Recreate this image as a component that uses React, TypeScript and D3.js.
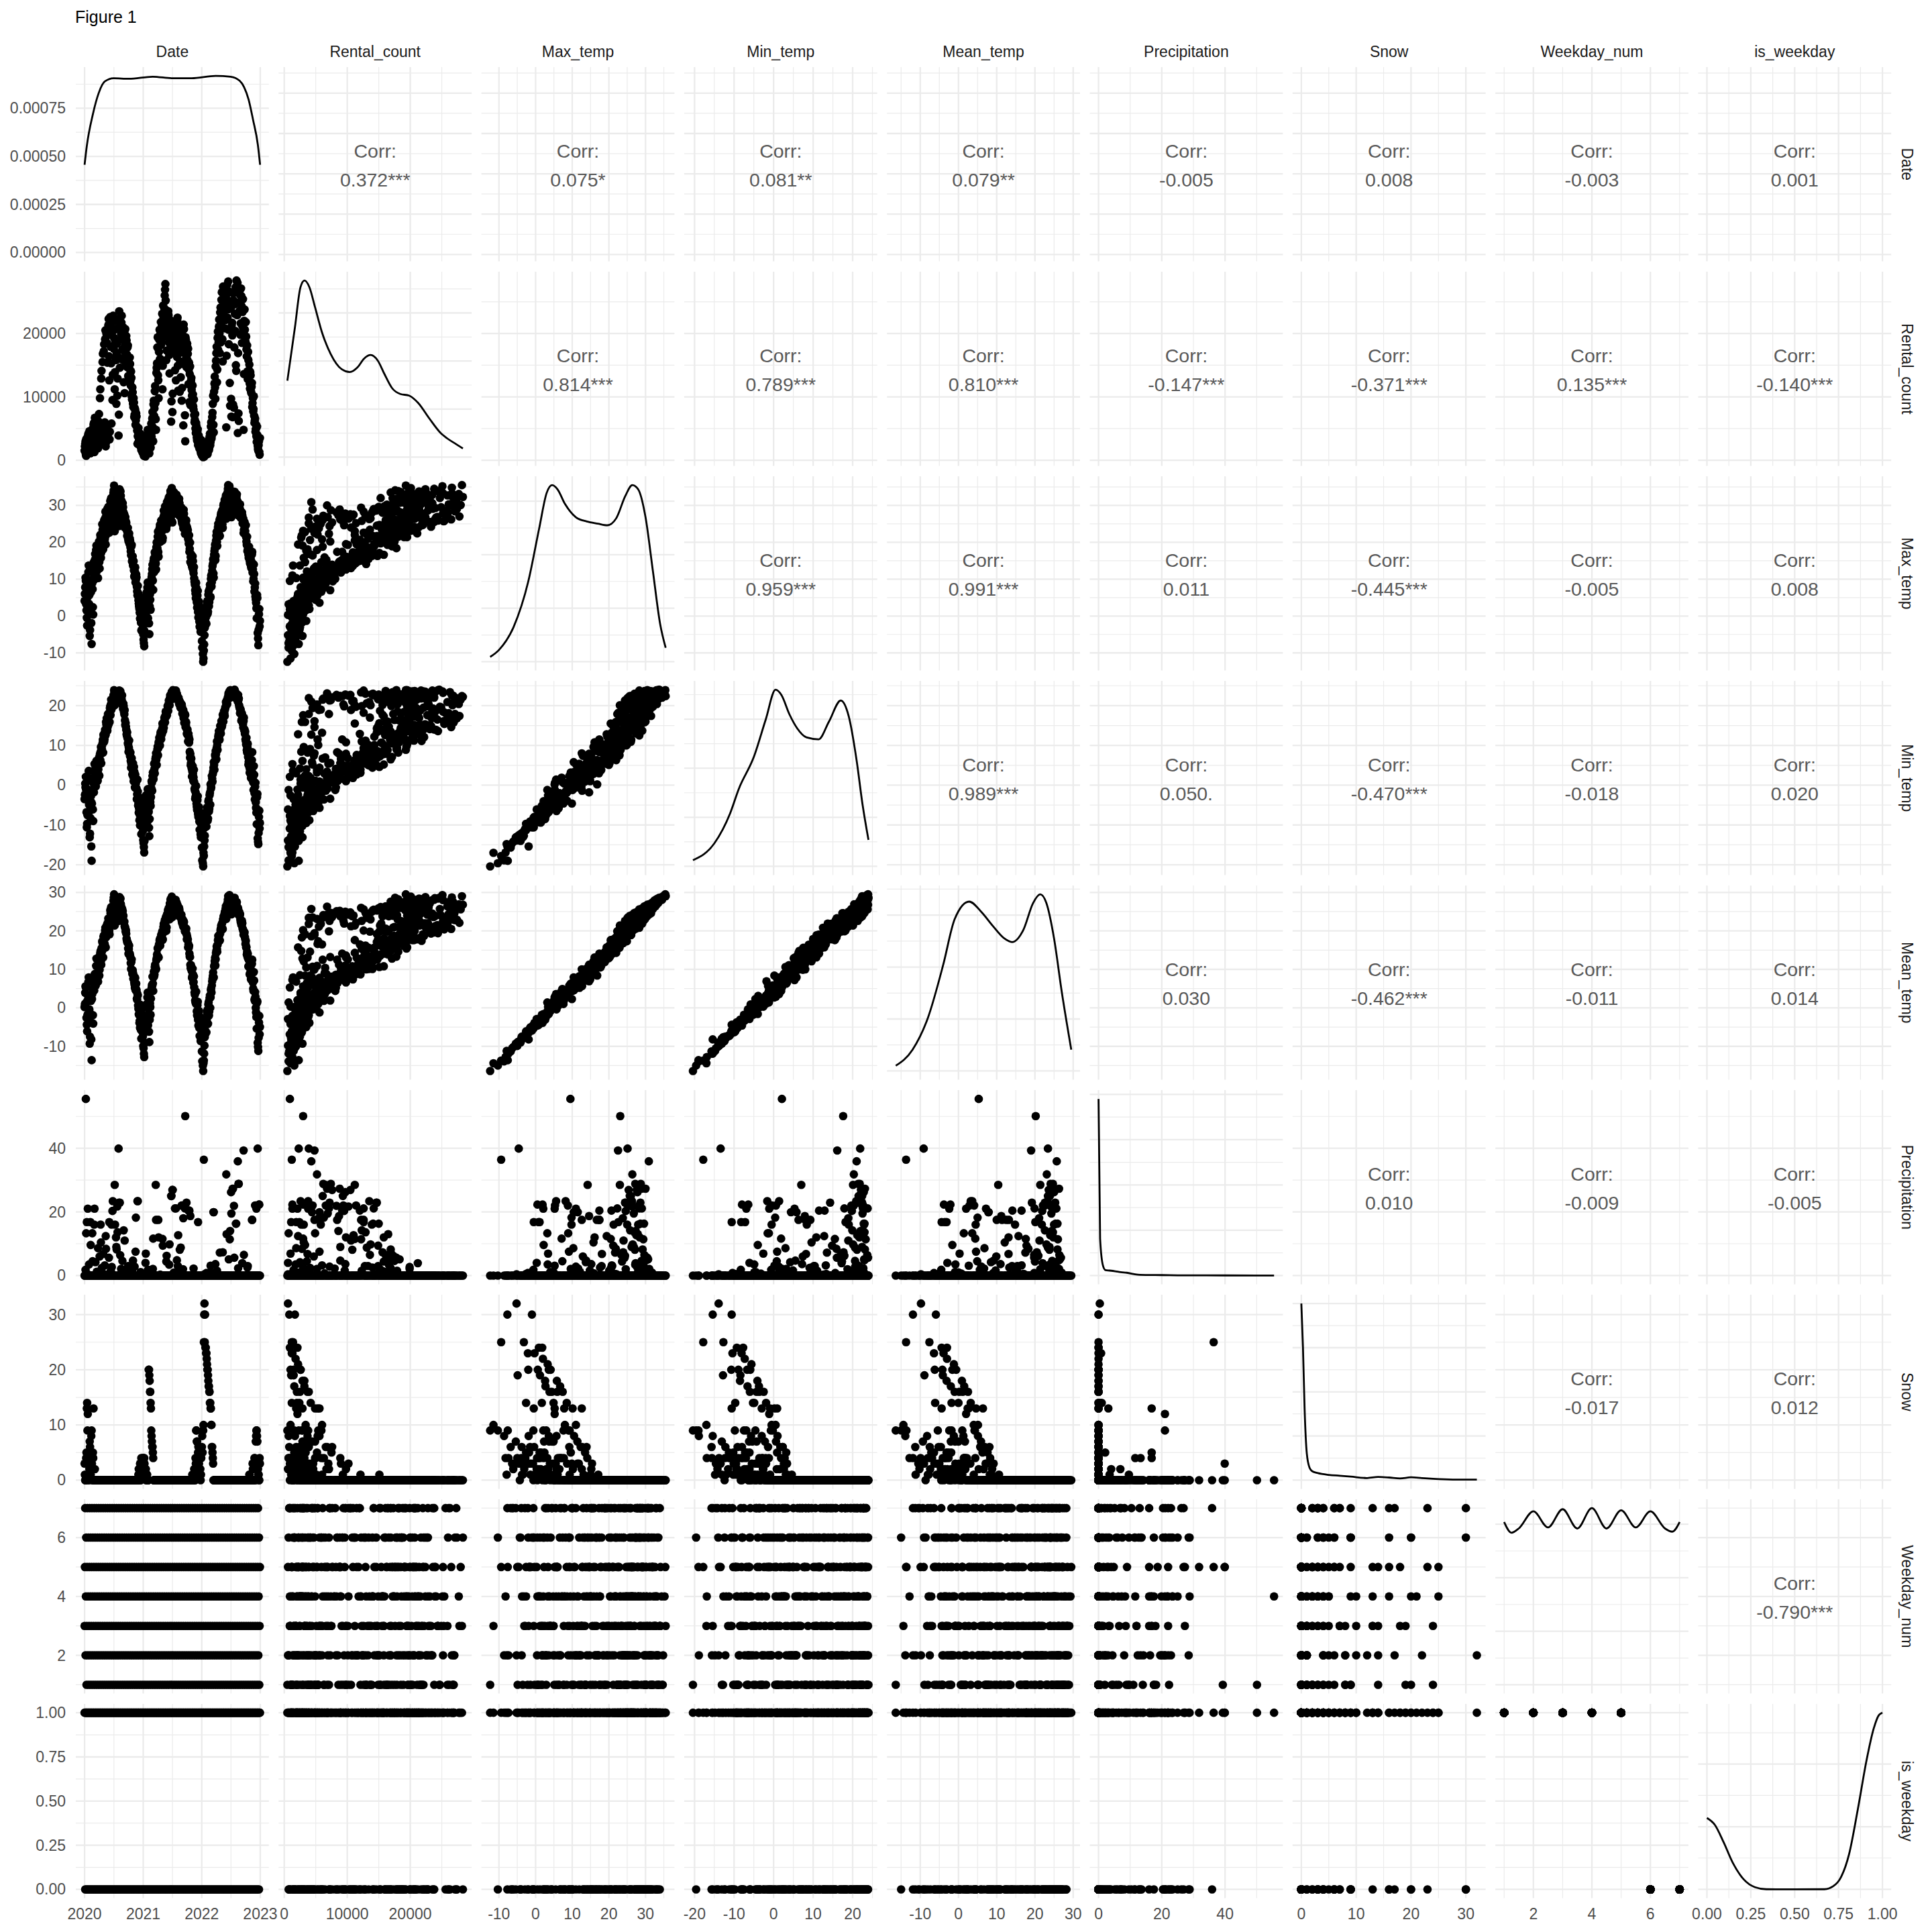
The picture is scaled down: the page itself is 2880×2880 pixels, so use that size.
import * as d3 from "d3";

// panel grid geometry (px)
const LEFT = 113;
const TOP = 100;
const PANEL_W = 287.8;
const PANEL_H = 289.6;
const STEP_X = 302.3;
const STEP_Y = 305;
const FONT = "'Liberation Sans', Arial, Helvetica, sans-serif";
const GRID = "#EBEBEB";

const VAR_NAMES = [
  "Date",
  "Rental_count",
  "Max_temp",
  "Min_temp",
  "Mean_temp",
  "Precipitation",
  "Snow",
  "Weekday_num",
  "is_weekday",
];

// two interleaved samples of the daily data: days 0,4,8,... and days 2,6,10,...
const START = new Date(2020, 0, 1);
const END = new Date(2022, 11, 31);
const RECORD_STEP = 4;
const OFFSET_B = 2;

const YEAR_TICKS = [2020, 2021, 2022, 2023];
// Date drawn as a number on the y axis of the first row (days since 1970-01-01)
const DATE_NUM_BREAKS = [18250, 18500, 18750, 19000, 19250];

const MAJOR_BREAKS: number[][] = [
  [],
  [0, 10000, 20000],
  [-10, 0, 10, 20, 30],
  [-20, -10, 0, 10, 20],
  [-20, -10, 0, 10, 20, 30],
  [0, 20, 40],
  [0, 10, 20, 30],
  [2, 4, 6],
  [0, 0.25, 0.5, 0.75, 1],
];
const DIAG_STEP = [0.00025, 2e-5, 0.01, 0.01, 0.01, 0.1, 0.2, 0.05, 1];

const CORR_TEXT: string[][] = [
  ["0.372***", "0.075*", "0.081**", "0.079**", "-0.005", "0.008", "-0.003", "0.001"],
  ["0.814***", "0.789***", "0.810***", "-0.147***", "-0.371***", "0.135***", "-0.140***"],
  ["0.959***", "0.991***", "0.011", "-0.445***", "-0.005", "0.008"],
  ["0.989***", "0.050.", "-0.470***", "-0.018", "0.020"],
  ["0.030", "-0.462***", "-0.011", "0.014"],
  ["0.010", "-0.009", "-0.005"],
  ["-0.017", "0.012"],
  ["-0.790***"],
];

// ---- sample A: days 0, 4, 8, ... (10 per line) ----
const rentalCount = [
  1500, 2600, 900, 3400, 1200, 2100, 4200, 1800, 2900, 1100,
  3800, 2300, 4900, 1600, 5600, 3100, 6700, 2500, 5200, 3600,
  4500, 1900, 6100, 3300, 9800, 2700, 12900, 4100, 15500, 3700,
  17200, 5300, 19100, 2200, 20000, 18500, 4800, 21300, 16400, 3300,
  22600, 17900, 5800, 20800, 13500, 21900, 19300, 11200, 18700, 15800,
  16900, 10200, 22100, 3900, 23500, 14600, 21400, 19900, 22800, 17500,
  21000, 12300, 20300, 18200, 15100, 19600, 16700, 17800, 13300, 16100,
  14400, 15200, 11800, 13000, 9600, 10700, 8400, 9100, 7200, 7900,
  6300, 6900, 4700, 3800, 5100, 3500, 2800, 4200, 2100, 3200,
  1700, 2500, 900, 1300, 2900, 600, 3600, 2200, 4100, 1500,
  2600, 1100, 3900, 2000, 5800, 4400, 7600, 3000, 9400, 8200,
  11700, 6500, 13800, 15300, 19400, 12600, 17100, 20600, 16000, 21800,
  18800, 23100, 14900, 22400, 19900, 26000, 27800, 23700, 17300, 21600,
  20400, 22900, 16600, 21200, 18100, 6100, 20100, 7600, 19500, 17700,
  21900, 14200, 20700, 18900, 16300, 22500, 11000, 21000, 19200, 15600,
  13100, 20900, 11400, 18000, 5500, 20700, 17500, 3000, 19000, 14700,
  18400, 16800, 12000, 15400, 13600, 8700, 12500, 11100, 9300, 10400,
  8000, 7100, 6400, 5000, 5900, 3600, 4600, 2400, 3900, 1900,
  2700, 1400, 3200, 800, 2000, 500, 1200, 600, 1700, 900,
  1300, 2200, 1000, 2900, 1600, 3700, 2400, 5300, 3400, 6800,
  8900, 5600, 10800, 13200, 9700, 15700, 17900, 14300, 20300, 18600,
  22200, 16900, 24100, 21500, 26500, 19100, 27400, 23300, 25600, 20800,
  24700, 5200, 26900, 22500, 28200, 18300, 25100, 8600, 23900, 6900,
  21700, 6800, 26300, 8300, 24600, 20400, 15000, 28350, 22900, 4300,
  7400, 26700, 23600, 19800, 27100, 24300, 21200, 25400, 4800, 22000,
  20600, 18700, 19500, 16400, 14000, 17100, 12900, 15100, 11300, 13400,
  10600, 12200, 9000, 7700, 10100, 5900, 6600, 4900, 3800, 5300,
  2300, 1500, 3000, 880,
];

const maxTemp = [
  4.1, 7.8, 9.5, 1.5, -2.6, 5.2, 11.9, 3.3, -5.4, 0.8,
  6.5, -7.6, 8.9, 2.4, 12.6, 9.8, 15.2, 13.7, 17.9, 12.1,
  16.4, 10.3, 18.8, 14.6, 19.5, 21.3, 17.2, 20.6, 23.4, 18.1,
  24.8, 22.1, 26.5, 19.4, 27.3, 25.9, 24.2, 29.6, 24.3, 22.8,
  31.2, 28.7, 25.0, 29.9, 26.3, 33.4, 35.4, 23.0, 30.8, 28.4,
  29.2, 26.4, 31.7, 25.1, 32.9, 28.6, 33.8, 31.0, 30.3, 28.9,
  29.5, 25.8, 27.6, 26.1, 24.7, 25.3, 23.2, 22.6, 20.9, 21.8,
  19.6, 20.4, 17.5, 18.9, 14.8, 16.2, 13.5, 12.4, 11.0, 13.2,
  9.8, 10.5, 6.7, 8.2, 4.3, 2.6, 0.9, 5.1, -1.8, 3.0,
  1.2, -3.1, -6.4, -8.2, -1.4, 0.3, 4.8, 2.0, 7.7, -0.6,
  3.6, -4.9, 5.9, 1.7, 9.3, 11.4, 13.9, 7.1, 15.6, 12.8,
  16.9, 14.2, 18.6, 19.7, 21.5, 17.4, 22.3, 23.8, 20.1, 24.6,
  22.7, 25.5, 21.2, 26.8, 27.4, 28.1, 27.0, 29.3, 24.4, 30.1,
  31.4, 29.8, 27.2, 32.6, 33.9, 26.0, 34.7, 25.4, 33.1, 31.8,
  32.4, 29.0, 33.0, 31.5, 30.2, 32.1, 27.5, 31.1, 30.6, 28.0,
  26.9, 29.4, 25.2, 28.3, 23.8, 27.7, 26.2, 23.1, 25.6, 24.5,
  24.0, 23.3, 20.7, 21.9, 18.2, 14.6, 16.8, 15.3, 13.1, 14.9,
  11.6, 10.2, 8.5, 6.1, 9.0, 3.7, 5.5, 1.1, 2.9, -1.5,
  0.4, -4.3, 2.2, -6.8, -2.6, -12.4, -9.4, -5.2, -1.0, 1.8,
  -2.1, 3.3, 0.6, 5.8, 2.7, 7.4, 4.9, 10.1, 8.0, 12.3,
  14.1, 11.5, 16.6, 18.3, 15.2, 20.5, 22.8, 19.0, 24.1, 23.5,
  25.3, 21.7, 26.7, 27.9, 26.2, 24.9, 29.0, 30.4, 28.5, 31.2,
  32.0, 26.4, 31.6, 33.5, 35.5, 30.7, 35.2, 27.3, 34.1, 26.8,
  33.2, 30.0, 32.8, 28.1, 33.7, 31.9, 29.6, 32.3, 31.3, 30.9,
  28.7, 30.2, 29.1, 27.8, 28.4, 26.9, 27.3, 25.8, 22.5, 24.7,
  24.2, 22.0, 21.4, 19.3, 17.6, 18.9, 15.8, 17.1, 14.3, 15.5,
  13.0, 16.7, 11.8, 9.4, 14.0, 6.6, 8.8, 4.5, 2.1, 5.7,
  -4.6, -7.9, 0.5, -2.8,
];

const minTemp = [
  -3.5, 0.4, 2.1, -6.8, -9.7, -1.1, 1.8, -4.9, -13.1, -8.2,
  -2.7, -19.0, -1.5, -6.1, 0.9, -0.5, 2.6, 4.2, 3.8, 1.4,
  5.2, 3.0, 6.7, 2.4, 7.9, 8.4, 5.5, 9.1, 10.6, 8.2,
  12.3, 11.5, 13.9, 12.8, 15.2, 14.4, 14.6, 17.1, 16.0, 15.9,
  19.8, 20.3, 19.0, 19.6, 20.9, 22.6, 23.9, 20.1, 22.8, 21.7,
  23.1, 22.5, 23.6, 21.9, 23.8, 22.4, 23.4, 22.0, 21.4, 20.6,
  19.2, 19.9, 17.8, 16.3, 15.6, 13.9, 12.4, 11.8, 10.2, 9.5,
  8.7, 7.3, 6.1, 5.4, 4.9, 3.8, 2.1, 4.6, 1.3, 2.7,
  0.4, -0.8, -2.3, -1.6, -4.7, -5.9, -7.4, -3.2, -9.6, -6.3,
  -7.8, -11.5, -14.6, -16.9, -10.2, -6.1, -4.4, -7.9, -2.2, -8.3,
  -6.7, -12.8, -3.6, -5.2, -0.7, 0.6, 2.3, 1.9, 3.5, 4.1,
  5.8, 7.0, 6.4, 8.1, 9.7, 9.3, 10.5, 11.2, 12.6, 12.0,
  13.4, 14.1, 14.8, 15.3, 16.0, 16.7, 17.4, 18.2, 17.9, 18.8,
  19.6, 20.4, 21.0, 21.8, 22.7, 21.5, 23.5, 22.1, 23.9, 22.9,
  23.2, 22.6, 23.7, 22.4, 23.0, 21.9, 21.2, 21.5, 20.8, 20.2,
  20.6, 19.4, 19.7, 18.5, 18.9, 17.2, 16.4, 17.6, 15.1, 14.3,
  13.8, 12.6, 12.9, 10.7, 8.4, 7.9, 5.6, 4.2, 3.5, 2.9,
  2.0, 0.8, -1.3, -2.9, -0.2, -5.4, -3.8, -7.2, -6.5, -9.1,
  -8.6, -12.4, -7.0, -15.7, -11.3, -20.4, -17.8, -13.9, -10.6, -7.7,
  -10.4, -5.6, -8.9, -4.1, -6.6, -2.5, -4.9, -0.9, 0.5, 1.7,
  2.8, 4.4, 5.1, 6.0, 7.2, 7.8, 9.4, 10.1, 11.3, 12.7,
  12.1, 13.5, 13.9, 15.2, 14.6, 16.3, 16.8, 17.5, 18.1, 19.0,
  19.7, 20.3, 20.8, 21.6, 22.4, 22.9, 23.6, 22.0, 23.3, 22.5,
  23.8, 23.1, 23.4, 22.7, 24.0, 23.5, 22.8, 22.2, 21.7, 21.0,
  21.4, 20.1, 19.3, 18.6, 17.9, 16.5, 17.2, 15.4, 16.1, 13.8,
  12.9, 11.5, 10.2, 8.8, 9.5, 7.1, 5.9, 4.6, 3.9, 5.0,
  2.4, 6.3, 3.1, 0.7, 4.8, -2.0, -0.4, -4.3, -6.9, -3.0,
  -13.4, -14.8, -8.0, -10.9,
];

const meanTemp = [
  0.2, 3.9, 5.3, -2.6, -6.1, 2.0, 6.7, -0.8, -9.3, -3.6,
  1.8, -13.6, 3.6, -1.9, 6.4, 4.5, 8.8, 8.5, 10.9, 6.5,
  10.7, 6.8, 12.5, 8.4, 13.6, 14.8, 11.2, 14.6, 16.9, 13.1,
  18.4, 16.6, 20.1, 15.7, 21.1, 20.0, 19.4, 23.2, 19.8, 19.1,
  25.4, 24.1, 21.8, 24.5, 23.3, 27.8, 29.5, 21.4, 26.5, 24.8,
  25.9, 24.2, 27.2, 23.4, 28.0, 25.3, 28.4, 26.3, 25.6, 24.5,
  24.1, 22.6, 22.4, 21.0, 19.8, 19.3, 17.6, 17.0, 15.4, 15.3,
  13.9, 13.5, 11.6, 11.9, 9.7, 9.8, 7.6, 8.3, 6.0, 7.8,
  5.0, 4.6, 2.1, 3.2, -0.3, -1.8, -3.4, 0.8, -5.8, -1.5,
  -3.3, -7.4, -10.5, -12.8, -5.7, -2.9, 0.1, -3.0, 2.7, -4.5,
  -1.6, -8.9, 1.1, -1.8, 4.3, 5.9, 8.1, 4.4, 9.4, 8.6,
  11.2, 10.4, 12.4, 13.9, 15.4, 13.2, 16.5, 17.6, 16.2, 18.3,
  18.0, 19.8, 17.8, 21.0, 21.6, 22.5, 22.1, 23.6, 20.9, 24.4,
  25.4, 25.0, 23.8, 27.1, 28.2, 23.4, 28.9, 23.6, 28.3, 27.0,
  27.5, 25.5, 28.1, 26.8, 26.3, 26.7, 24.0, 26.0, 25.4, 23.8,
  23.4, 24.2, 22.1, 23.0, 21.1, 22.3, 21.0, 20.2, 20.1, 19.2,
  18.6, 17.7, 16.5, 16.1, 13.3, 11.2, 11.1, 9.6, 8.2, 8.7,
  6.7, 5.3, 3.4, 1.5, 4.2, -0.9, 0.7, -3.1, -1.9, -5.2,
  -4.2, -8.6, -2.6, -11.3, -7.1, -16.4, -13.7, -9.8, -5.9, -3.0,
  -6.4, -1.2, -4.2, 0.9, -2.0, 2.5, 0.0, 4.6, 4.0, 6.9,
  8.3, 7.8, 10.8, 12.1, 11.0, 14.2, 16.0, 14.6, 17.6, 18.0,
  18.7, 17.5, 20.2, 21.4, 20.5, 20.4, 22.9, 23.8, 23.2, 25.0,
  25.7, 23.1, 26.0, 27.3, 29.0, 26.5, 29.3, 24.4, 28.5, 24.3,
  28.2, 26.3, 27.7, 25.1, 28.6, 27.4, 25.9, 26.8, 26.1, 25.7,
  24.7, 25.0, 23.9, 22.9, 22.8, 21.5, 22.0, 20.4, 19.0, 19.1,
  18.4, 16.6, 15.7, 13.9, 13.3, 12.8, 10.7, 10.6, 9.0, 10.1,
  7.6, 11.4, 7.3, 5.0, 9.3, 2.2, 4.1, 0.0, -2.4, 1.3,
  -9.1, -11.2, -3.8, -6.9,
];

const precipitation = [
  0, 0, 55.5, 0, 0.5, 21, 0, 3.5, 0, 16.8,
  0, 0, 13.3, 0, 0, 16, 0, 4.2, 0, 1.2,
  0, 8.6, 0, 0, 0, 16, 0, 2.4, 0, 6.8,
  0, 0.4, 0, 12.4, 0, 0, 0, 0, 5.6, 0,
  0, 1.5, 16, 0, 23.4, 0, 0, 28.5, 0, 12.0,
  8.2, 21.7, 0, 39.9, 0, 22.9, 0, 2.1, 0, 4.6,
  0, 14.2, 0, 0, 0.8, 0, 0, 0, 3.0, 0,
  0, 0, 0, 0, 1.6, 0, 0, 0, 2.8, 0,
  18.2, 0, 0, 23.4, 0, 0, 0, 0.6, 0, 0,
  0, 0, 0, 0, 0, 4.0, 0, 0, 0, 1.8,
  0, 0, 0, 0, 0, 0, 0, 11.6, 0, 0,
  0, 28.5, 0, 0, 0, 17.5, 0, 0, 0.3, 0,
  0, 0, 9.4, 0, 0, 0, 0, 0, 6.2, 0,
  0, 0, 3.4, 0, 0, 25.0, 0, 26.9, 0, 0.9,
  0, 21.1, 0, 0, 4.8, 0, 12.7, 0, 0, 1.4,
  8.8, 0, 22.0, 0, 18.0, 0, 0, 50.1, 0, 22.9,
  0, 0, 20.4, 0, 0, 18.7, 0, 0, 0, 0,
  2.2, 0, 0, 0, 0, 0, 0, 16.8, 0, 0,
  0, 0, 0, 0, 0, 0, 36.4, 0.4, 0, 0,
  0.8, 0, 0, 0, 0, 0, 1.0, 0, 0, 0,
  0, 19.9, 0, 0, 3.6, 0, 0, 0, 0, 0,
  0, 7.2, 0, 0, 0, 0, 0, 0, 0, 0,
  0, 31.8, 0, 0, 0, 5.1, 0, 14.0, 0, 19.5,
  0, 27.3, 0, 21.9, 0, 0, 16.3, 0, 0, 35.9,
  28.8, 0, 0, 0, 0, 0, 3.9, 0, 39.3, 0,
  0, 0, 0, 0, 2.5, 0, 0, 0, 0, 0,
  0, 17.5, 0, 0, 0, 0, 22.0, 0, 21.0, 0,
  39.9, 0, 22.3, 0,
];

const snow = [
  3, 0, 0, 5, 14, 12, 0, 1, 7, 4,
  2, 9, 0, 5, 13, 0, 2, 0, 0, 0,
  0, 0, 0, 0, 0, 0, 0, 0, 0, 0,
  0, 0, 0, 0, 0, 0, 0, 0, 0, 0,
  0, 0, 0, 0, 0, 0, 0, 0, 0, 0,
  0, 0, 0, 0, 0, 0, 0, 0, 0, 0,
  0, 0, 0, 0, 0, 0, 0, 0, 0, 0,
  0, 0, 0, 0, 0, 0, 0, 0, 0, 0,
  0, 0, 0, 0, 1, 0, 2, 0, 3, 1,
  4, 2, 3, 4, 1, 2, 0, 1, 0, 0,
  20, 19, 16, 14, 9, 7, 6, 4, 0, 0,
  0, 0, 0, 0, 0, 0, 0, 0, 0, 0,
  0, 0, 0, 0, 0, 0, 0, 0, 0, 0,
  0, 0, 0, 0, 0, 0, 0, 0, 0, 0,
  0, 0, 0, 0, 0, 0, 0, 0, 0, 0,
  0, 0, 0, 0, 0, 0, 0, 0, 0, 0,
  0, 0, 0, 0, 0, 0, 0, 0, 1, 0,
  0, 2, 0, 4, 9, 7, 3, 5, 2, 6,
  1, 0, 4, 6, 5, 9, 25, 32, 30, 24,
  23, 21, 20, 18, 17, 16, 14, 13, 10, 6,
  4, 0, 0, 0, 0, 0, 0, 0, 0, 0,
  0, 0, 0, 0, 0, 0, 0, 0, 0, 0,
  0, 0, 0, 0, 0, 0, 0, 0, 0, 0,
  0, 0, 0, 0, 0, 0, 0, 0, 0, 0,
  0, 0, 0, 0, 0, 0, 0, 0, 0, 0,
  0, 0, 0, 0, 0, 0, 0, 1, 0, 0,
  0, 0, 3, 0, 0, 4, 0, 7, 9, 8,
  3, 1, 0, 4,
];

// Monday = 1 ... Sunday = 7
const weekdayNum = (
  "3741526 3741526 3741526 3741526 3741526 3741526 3741526 3741526 3741526 3741526" +
  "3741526 3741526 3741526 3741526 3741526 3741526 3741526 3741526 3741526 3741526" +
  "3741526 3741526 3741526 3741526 3741526 3741526 3741526 3741526 3741526 3741526" +
  "3741526 3741526 3741526 3741526 3741526 3741526 3741526 3741526 3741526 3"
)
  .replace(/\s/g, "")
  .split("")
  .map(Number);

const isWeekday = (
  "1011110 1011110 1011110 1011110 1011110 1011110 1011110 1011110 1011110 1011110" +
  "1011110 1011110 1011110 1011110 1011110 1011110 1011110 1011110 1011110 1011110" +
  "1011110 1011110 1011110 1011110 1011110 1011110 1011110 1011110 1011110 1011110" +
  "1011110 1011110 1011110 1011110 1011110 1011110 1011110 1011110 1011110 1"
)
  .replace(/\s/g, "")
  .split("")
  .map(Number);

// ---- sample B: days 2, 6, 10, ... (10 per line) ----
const rentalCountB = [
  2200, 3000, 700, 1900, 2800, 3900, 1400, 4600, 2400, 3300,
  1700, 4400, 3600, 2000, 5900, 1300, 4100, 5700, 2900, 6400,
  5000, 3500, 7300, 4700, 11200, 3100, 14100, 5400, 16800, 4300,
  18300, 6000, 20500, 2800, 19600, 15400, 3900, 22300, 12600, 4500,
  21100, 15300, 19900, 9500, 22800, 17600, 20600, 13900, 16300, 8900,
  18400, 12900, 20900, 7200, 22400, 16100, 19100, 21700, 15900, 20200,
  17300, 19000, 10600, 20700, 16600, 18900, 14700, 18100, 15600, 12900,
  16200, 12500, 14000, 10100, 11500, 8900, 9800, 6800, 8200, 5600,
  7400, 5300, 2600, 4400, 3000, 4000, 2300, 3600, 1600, 2700,
  1200, 1900, 700, 2300, 3300, 1000, 3000, 1800, 4800, 2100,
  1500, 3200, 2500, 4900, 3700, 6600, 5200, 8800, 7000, 10900,
  9000, 4800, 14600, 17800, 13400, 9800, 19000, 15900, 20100, 18200,
  21300, 11200, 24400, 20900, 23900, 26900, 25200, 15800, 22700, 19500,
  23500, 18600, 13700, 22100, 16900, 9300, 19800, 10500, 20300, 18500,
  17200, 21400, 12600, 19700, 22000, 14900, 20400, 18000, 10800, 20000,
  17000, 9400, 19800, 15200, 21400, 18800, 7100, 19400, 16100, 17900,
  15800, 17600, 14300, 9200, 14800, 11900, 13000, 10200, 11800, 8500,
  9600, 6000, 7300, 4300, 5400, 3100, 4900, 2800, 3300, 2100,
  2500, 1100, 2800, 700, 1600, 1000, 800, 1400, 2100, 1200,
  1800, 2600, 1500, 3200, 2000, 4200, 2900, 6000, 3900, 7500,
  10200, 4400, 12100, 11500, 14800, 16900, 12300, 19300, 17400, 21100,
  20000, 23300, 18600, 25300, 22800, 15600, 26200, 24000, 27000, 22100,
  25900, 16500, 27700, 23800, 20600, 26600, 12200, 24400, 9700, 21300,
  19700, 8800, 25200, 17800, 23100, 27300, 14100, 26800, 28000, 16900,
  6200, 24900, 26100, 21600, 25900, 18500, 23400, 20700, 13600, 23800,
  19300, 21800, 17500, 18100, 12800, 15800, 14200, 12100, 13900, 10900,
  11600, 8400, 9800, 8100, 7000, 6300, 4500, 5600, 2900, 4000,
  1800, 2400, 1300, 3500,
];

const maxTempB = [
  6.0, 10.4, 3.2, -0.5, 2.9, 8.6, 13.7, 5.7, -3.8, 2.2,
  -1.9, 9.9, 7.3, 0.4, 14.6, 11.0, 16.8, 12.5, 19.1, 15.9,
  13.4, 17.7, 20.2, 12.9, 22.0, 15.8, 21.7, 24.9, 19.9, 23.7,
  26.0, 20.8, 28.3, 21.9, 25.2, 29.1, 26.7, 27.8, 22.6, 28.9,
  30.3, 32.0, 27.7, 24.6, 31.5, 34.1, 33.0, 28.0, 30.1, 26.2,
  30.9, 27.0, 32.4, 24.4, 34.4, 29.7, 32.6, 31.3, 29.8, 30.6,
  28.2, 27.1, 24.0, 26.8, 25.6, 24.1, 21.7, 23.9, 20.3, 22.4,
  21.0, 18.6, 16.5, 19.3, 15.4, 13.8, 14.9, 10.7, 12.0, 9.1,
  11.3, 7.9, 5.6, 6.2, 3.4, 1.9, -0.7, 4.0, -3.9, 0.5,
  -2.2, -5.0, -7.4, -4.1, 1.6, 3.4, 6.3, -0.3, 9.1, 2.8,
  -2.0, 2.6, 4.4, 7.8, 10.5, 12.7, 9.6, 14.8, 11.9, 17.3,
  15.0, 12.6, 20.0, 18.4, 22.9, 16.1, 21.4, 24.7, 23.1, 25.9,
  24.0, 20.5, 25.9, 28.6, 26.1, 29.7, 27.8, 23.6, 30.9, 28.9,
  30.6, 32.2, 26.5, 31.0, 33.5, 25.7, 34.0, 27.6, 32.7, 33.6,
  31.9, 30.4, 28.3, 32.9, 31.6, 29.4, 30.0, 31.8, 27.1, 29.6,
  28.6, 25.9, 27.3, 24.6, 28.8, 26.4, 22.3, 25.3, 26.0, 23.2,
  22.4, 21.0, 19.6, 17.4, 19.9, 16.0, 14.1, 13.6, 16.2, 12.4,
  13.3, 9.3, 7.0, 4.8, 7.6, 2.3, 6.8, -0.4, 3.9, -2.9,
  1.4, -3.5, -1.8, -8.6, -10.3, -11.5, -7.7, -3.2, 0.9, -0.3,
  2.0, 4.1, 1.2, 6.7, 3.8, 8.5, 5.2, 11.0, 9.2, 13.5,
  15.4, 10.4, 17.6, 19.4, 16.3, 21.8, 20.1, 23.2, 25.0, 22.4,
  26.1, 24.2, 27.4, 25.7, 28.6, 23.9, 30.0, 29.3, 31.5, 30.8,
  32.7, 27.9, 33.1, 34.5, 32.2, 34.8, 29.4, 33.9, 27.8, 32.6,
  31.2, 28.9, 33.3, 30.5, 32.0, 31.4, 28.6, 33.0, 30.1, 29.9,
  27.2, 29.5, 30.3, 26.6, 27.6, 28.1, 25.1, 26.4, 23.4, 25.5,
  23.0, 24.6, 20.2, 21.5, 18.0, 16.6, 18.8, 15.0, 16.3, 13.6,
  14.7, 17.4, 12.6, 10.1, 11.4, 7.7, 5.3, 3.6, -0.6, 4.9,
  -6.1, -3.7, 1.9, -1.3,
];

const minTempB = [
  -2.4, -0.6, -1.2, -10.6, -7.5, -3.9, 3.6, -6.5, -12.2, -4.0,
  -15.4, -4.6, 0.8, -9.0, -1.8, 5.3, 0.2, -0.3, 6.1, 2.9,
  1.1, 4.0, 5.6, 7.4, 6.3, 9.6, 8.0, 10.1, 11.4, 12.7,
  10.9, 13.2, 12.5, 15.9, 16.8, 13.7, 17.9, 15.3, 18.2, 19.4,
  17.6, 21.5, 20.6, 19.8, 21.1, 22.3, 23.4, 22.9, 21.0, 22.4,
  22.2, 23.0, 22.8, 21.3, 23.5, 23.7, 22.1, 21.8, 22.6, 20.0,
  20.5, 18.4, 18.9, 15.1, 14.7, 12.8, 13.3, 10.6, 8.4, 11.2,
  7.9, 8.2, 4.4, 6.8, 2.7, 5.5, 1.0, 3.4, -0.6, 0.9,
  1.6, -3.5, 1.4, -5.1, -6.9, -8.8, -10.1, -4.5, -12.3, -9.2,
  -9.9, -13.8, -15.6, -14.0, -8.1, -2.6, -5.8, -9.4, -1.0, -6.3,
  -10.7, -8.5, -4.3, -3.0, 1.0, -1.4, 3.2, 1.5, 5.4, 3.0,
  6.6, 8.0, 5.1, 9.0, 7.5, 10.8, 11.9, 10.0, 13.3, 11.6,
  12.8, 15.5, 13.6, 14.4, 17.0, 15.8, 18.5, 17.3, 17.6, 19.9,
  18.7, 21.3, 20.1, 22.5, 21.7, 22.4, 23.1, 22.7, 23.6, 22.0,
  23.4, 23.0, 23.8, 22.9, 22.2, 21.6, 22.0, 20.4, 21.1, 19.5,
  19.9, 20.3, 18.0, 18.7, 16.9, 15.7, 17.9, 14.6, 15.8, 12.9,
  14.0, 11.0, 12.2, 11.5, 6.9, 5.0, 6.7, 2.2, 4.8, 1.1,
  3.9, -0.9, -3.4, -1.9, -4.6, -6.2, -2.8, -8.0, -5.5, -11.2,
  -9.4, -13.1, -10.2, -18.9, -19.6, -17.0, -15.4, -12.7, -9.3, -8.1,
  -7.3, -5.9, -8.4, -3.7, -6.0, -1.9, 0.2, -0.5, 2.3, 0.9,
  3.4, 5.8, 3.9, 7.6, 8.6, 6.5, 11.0, 8.9, 12.2, 13.6,
  11.4, 14.9, 13.0, 16.1, 15.0, 17.7, 16.0, 18.6, 17.4, 19.5,
  20.9, 21.2, 20.4, 22.0, 23.1, 22.6, 23.3, 23.9, 22.8, 23.0,
  23.7, 22.4, 23.2, 23.9, 22.9, 21.9, 23.0, 22.5, 21.5, 22.7,
  21.8, 19.6, 18.1, 19.0, 16.2, 18.0, 16.8, 14.5, 17.0, 14.0,
  13.5, 11.1, 11.9, 8.2, 10.4, 5.2, 6.6, 3.1, 6.0, 1.8,
  4.1, 8.3, 1.5, -1.2, 2.6, -3.6, 0.6, -5.7, -9.8, -2.2,
  -14.2, -12.0, -6.4, -9.5,
];

const meanTempB = [
  1.0, 5.6, 1.4, -4.4, -1.8, 3.1, 7.9, -0.4, -7.5, -1.6,
  -8.2, 2.3, 4.9, -4.1, 6.9, 7.2, 8.4, 5.8, 12.8, 9.0,
  7.1, 10.5, 13.2, 9.9, 14.3, 12.1, 15.5, 17.3, 15.2, 18.6,
  18.9, 16.5, 20.8, 18.3, 21.4, 21.9, 21.8, 22.0, 20.1, 23.5,
  24.6, 26.2, 23.3, 21.9, 25.7, 28.6, 27.2, 25.0, 25.9, 23.8,
  26.0, 24.7, 27.9, 22.6, 28.8, 26.4, 27.0, 26.1, 25.8, 25.2,
  23.9, 22.3, 21.2, 20.7, 20.2, 18.0, 17.1, 16.8, 14.0, 16.2,
  14.1, 13.0, 10.1, 12.6, 8.8, 9.2, 7.4, 6.6, 5.2, 4.6,
  6.3, 2.4, 3.6, 0.6, -1.7, -3.9, -5.2, -0.9, -8.0, -4.6,
  -6.3, -9.9, -11.9, -9.0, -3.4, 0.3, 0.9, -5.0, 4.0, -2.5,
  -6.2, -3.1, 0.2, 2.4, 5.1, 5.7, 6.3, 7.9, 8.2, 10.6,
  10.4, 10.0, 12.9, 13.3, 15.6, 13.1, 16.1, 17.9, 17.8, 19.0,
  18.1, 17.6, 19.4, 21.8, 21.2, 22.9, 22.6, 20.0, 24.2, 24.0,
  24.5, 26.0, 23.0, 26.4, 27.6, 23.9, 28.4, 24.8, 27.8, 27.5,
  27.2, 26.4, 25.6, 27.4, 26.6, 25.3, 25.5, 25.9, 23.8, 24.3,
  24.0, 22.6, 22.3, 21.4, 22.5, 20.8, 19.9, 19.7, 20.6, 17.8,
  18.0, 15.7, 15.6, 14.1, 13.2, 10.3, 10.0, 7.8, 10.2, 6.5,
  8.2, 4.0, 1.9, 1.1, 1.0, -2.0, 1.6, -4.6, -0.8, -7.3,
  -3.8, -8.0, -6.4, -13.9, -15.0, -14.4, -11.9, -7.6, -4.4, -3.9,
  -3.0, -0.6, -4.1, 1.5, -1.0, 3.2, 2.7, 5.1, 5.8, 7.6,
  9.2, 7.9, 11.1, 13.0, 12.6, 14.8, 15.3, 16.4, 18.7, 17.8,
  19.0, 19.3, 20.6, 20.8, 22.0, 20.5, 23.3, 23.9, 24.6, 25.1,
  26.4, 24.2, 26.9, 28.1, 27.3, 28.7, 26.0, 28.4, 25.0, 27.6,
  27.0, 25.2, 28.0, 26.8, 27.1, 26.3, 25.4, 27.5, 25.6, 25.9,
  24.1, 24.0, 24.4, 22.3, 21.6, 22.6, 20.6, 20.0, 19.8, 19.6,
  17.9, 17.4, 15.8, 14.6, 14.0, 10.8, 12.3, 8.7, 10.9, 7.4,
  9.3, 12.5, 6.6, 4.4, 7.1, 1.8, 2.9, -1.2, -5.4, 1.7,
  -10.2, -7.8, -2.1, -5.0,
];

const precipitationB = [
  0, 1.8, 13.3, 16.8, 0, 0, 0, 0, 0, 9.6,
  0, 0, 4.5, 0, 0, 21.0, 0, 0, 0, 0.7,
  0, 0, 0, 6.0, 0, 10.4, 0, 0, 0, 0,
  0, 3.2, 0, 8.4, 0, 0, 0, 0, 16.8, 0,
  0, 0, 2.7, 20.3, 0, 0, 0, 16.0, 0, 9.0,
  0, 13.6, 0, 22.9, 0, 6.4, 0, 0, 1.2, 0,
  0, 0, 11.0, 0, 0, 0, 0.5, 0, 0, 0,
  0, 0, 0, 0, 0, 4.7, 0, 0, 0, 7.5,
  0, 0, 23.4, 0, 0, 0, 0, 1.1, 0, 0,
  0, 0, 0, 0, 0, 6.9, 0, 0, 0, 0,
  0, 0, 0, 0, 0, 0, 2.1, 0, 0, 0,
  0, 17.5, 0, 0, 0, 12.0, 0, 0, 0, 0,
  0, 11.5, 0, 0, 0, 0, 0, 4.4, 0, 0,
  0, 0, 9.8, 0, 0, 25.0, 0, 26.9, 0, 0,
  0, 0, 21.1, 0, 0, 3.0, 0, 0, 8.1, 0,
  0, 22.0, 0, 2.0, 0, 0, 21.1, 0, 0, 0,
  0, 0, 0, 20.4, 0, 0, 0, 0, 0, 0,
  0, 0, 0, 0, 0, 0, 0, 0, 0, 0,
  0, 0, 0, 0, 0, 0, 0, 0, 0, 0,
  0, 0, 0, 0, 0, 0, 3.1, 0, 0, 0,
  0, 19.9, 0, 0, 0, 0, 1.5, 0, 0, 0,
  0, 0, 0, 0, 0, 7.3, 0, 0, 0, 0,
  0, 13.0, 0, 0, 0, 0, 11.4, 0, 26.2, 0,
  0, 27.3, 0, 5.6, 0, 0, 16.3, 0, 0, 2.3,
  28.8, 0, 0, 0, 0, 0, 0, 0, 6.5, 0,
  0, 0, 0, 0, 3.0, 0, 0, 0, 0, 0,
  0, 17.5, 0, 0, 0, 0, 22.0, 0, 0, 0,
  0, 0, 22.3, 0,
];

const snowB = [
  1, 0, 4, 13, 9, 3, 0, 2, 6, 1,
  8, 3, 0, 4, 0, 0, 0, 0, 0, 0,
  0, 0, 0, 0, 0, 0, 0, 0, 0, 0,
  0, 0, 0, 0, 0, 0, 0, 0, 0, 0,
  0, 0, 0, 0, 0, 0, 0, 0, 0, 0,
  0, 0, 0, 0, 0, 0, 0, 0, 0, 0,
  0, 0, 0, 0, 0, 0, 0, 0, 0, 0,
  0, 0, 0, 0, 0, 0, 0, 0, 0, 0,
  0, 0, 0, 0, 2, 1, 3, 0, 4, 2,
  3, 4, 4, 3, 1, 2, 0, 1, 0, 0,
  20, 18, 16, 13, 8, 6, 5, 0, 0, 0,
  0, 0, 0, 0, 0, 0, 0, 0, 0, 0,
  0, 0, 0, 0, 0, 0, 0, 0, 0, 0,
  0, 0, 0, 0, 0, 0, 0, 0, 0, 0,
  0, 0, 0, 0, 0, 0, 0, 0, 0, 0,
  0, 0, 0, 0, 0, 0, 0, 0, 0, 0,
  0, 0, 0, 0, 0, 0, 0, 0, 0, 0,
  0, 1, 0, 3, 9, 7, 4, 6, 3, 4,
  2, 1, 5, 8, 9, 10, 30, 25, 24, 23,
  22, 20, 19, 17, 16, 14, 13, 10, 6, 5,
  3, 0, 0, 0, 0, 0, 0, 0, 0, 0,
  0, 0, 0, 0, 0, 0, 0, 0, 0, 0,
  0, 0, 0, 0, 0, 0, 0, 0, 0, 0,
  0, 0, 0, 0, 0, 0, 0, 0, 0, 0,
  0, 0, 0, 0, 0, 0, 0, 0, 0, 0,
  0, 0, 0, 0, 0, 0, 0, 1, 0, 0,
  0, 0, 2, 0, 3, 4, 0, 8, 9, 7,
  2, 1, 0, 3,
];

const weekdayNumB = (
  "5263741 5263741 5263741 5263741 5263741 5263741 5263741 5263741 5263741 5263741" +
  "5263741 5263741 5263741 5263741 5263741 5263741 5263741 5263741 5263741 5263741" +
  "5263741 5263741 5263741 5263741 5263741 5263741 5263741 5263741 5263741 5263741" +
  "5263741 5263741 5263741 5263741 5263741 5263741 5263741 5263741 5263741 5"
)
  .replace(/\s/g, "")
  .split("")
  .map(Number);

const isWeekdayB = (
  "1101011 1101011 1101011 1101011 1101011 1101011 1101011 1101011 1101011 1101011" +
  "1101011 1101011 1101011 1101011 1101011 1101011 1101011 1101011 1101011 1101011" +
  "1101011 1101011 1101011 1101011 1101011 1101011 1101011 1101011 1101011 1101011" +
  "1101011 1101011 1101011 1101011 1101011 1101011 1101011 1101011 1101011 1"
)
  .replace(/\s/g, "")
  .split("")
  .map(Number);

// ---- diagonal density curves, [value, density] ----
const densDate: [number, number][] = [
  [0, 0.000456], [14, 0.000554], [51, 0.000716], [89, 0.000831], [126, 0.000889],
  [182, 0.000906], [276, 0.000903], [425, 0.000914], [547, 0.000906], [668, 0.000906],
  [818, 0.000918], [911, 0.000914], [967, 0.000893], [995, 0.00086], [1023, 0.000796],
  [1051, 0.00069], [1081, 0.00056], [1095, 0.000456],
];
const densRental: [number, number][] = [
  [500, 3.18e-5], [1700, 5.4e-5], [2580, 7.07e-5], [3220, 7.35e-5], [4000, 7.07e-5],
  [4890, 6.24e-5], [5960, 5.22e-5], [7380, 4.29e-5], [9160, 3.65e-5], [10400, 3.54e-5],
  [11640, 3.74e-5], [12710, 4.11e-5], [13710, 4.25e-5], [14840, 4.02e-5], [15900, 3.46e-5],
  [17150, 2.86e-5], [18400, 2.63e-5], [19820, 2.56e-5], [21240, 2.26e-5], [23020, 1.61e-5],
  [24800, 1.01e-5], [25860, 0.78e-5], [27280, 0.54e-5], [28350, 0.36e-5],
];
const densMax: [number, number][] = [
  [-12.4, 0.0009], [-10, 0.0022], [-6, 0.0065], [-2, 0.015], [1, 0.025], [3, 0.0315],
  [4.5, 0.033], [6, 0.0322], [8, 0.0295], [11, 0.027], [14, 0.0262], [17, 0.0258],
  [19.6, 0.0255], [22, 0.0268], [24.5, 0.031], [26.4, 0.033], [28, 0.0322], [30, 0.027],
  [32, 0.017], [34, 0.007], [35.5, 0.0026],
];
const densMin: [number, number][] = [
  [-20.4, 0.00126], [-15, 0.00468], [-11, 0.0108], [-8.8, 0.0158], [-5, 0.0223],
  [-2, 0.0299], [0.5, 0.036], [2, 0.0349], [4, 0.031], [6, 0.0281], [8.3, 0.0263],
  [11.4, 0.0259], [14, 0.0295], [17, 0.0338], [19, 0.0306], [21, 0.0216], [22.5, 0.0126],
  [24, 0.0054],
];
const densMean: [number, number][] = [
  [-16.4, 0.001], [-12, 0.0041], [-8, 0.0102], [-4, 0.0204], [-1, 0.0292], [2.8, 0.0326],
  [6, 0.0306], [9, 0.0279], [12, 0.0255], [14, 0.0248], [17, 0.0272], [19.5, 0.0323],
  [21.4, 0.034], [23, 0.0323], [25, 0.0255], [27, 0.0153], [29.5, 0.0041],
];
const densPrecip: [number, number][] = [
  [0, 0.39], [0.5, 0.081], [1.4, 0.022], [2.2, 0.012], [3.5, 0.011], [5.3, 0.0094],
  [7, 0.0075], [8.9, 0.0062], [12.4, 0.002], [16, 0.0012], [20, 0.001], [25, 0.0006],
  [30, 0.0004], [40, 0.0003], [50, 0.0002], [55.5, 0.0002],
];
const densSnow: [number, number][] = [
  [0, 0.8], [0.3, 0.6], [0.6, 0.32], [1, 0.12], [1.5, 0.056], [2, 0.04], [3, 0.032],
  [5, 0.024], [7, 0.02], [9, 0.016], [12, 0.0096], [14, 0.0144], [16, 0.012], [18, 0.008],
  [20, 0.0128], [22, 0.0096], [24, 0.0064], [26, 0.004], [29, 0.0024], [32, 0.0024],
];
const densWeekday: [number, number][] = [
  [1, 0.152], [1.25, 0.142], [1.5, 0.146], [2, 0.162], [2.5, 0.147], [3, 0.164],
  [3.5, 0.146], [4, 0.165], [4.5, 0.146], [5, 0.163], [5.5, 0.147], [6, 0.162],
  [6.5, 0.146], [6.75, 0.143], [7, 0.152],
];
const densIsWeekday: [number, number][] = [
  [0, 1.14], [0.045, 1.03], [0.096, 0.747], [0.147, 0.426], [0.21, 0.158], [0.274, 0.034],
  [0.338, 0.002], [0.5, 0], [0.67, 0.002], [0.72, 0.051], [0.76, 0.175], [0.81, 0.564],
  [0.86, 1.283], [0.91, 2.07], [0.95, 2.566], [0.98, 2.783], [1, 2.82],
];

function minorBreaks(major: number[], lo: number, hi: number) {
  const out: number[] = [];
  for (let k = 0; k < major.length - 1; k++) out.push((major[k] + major[k + 1]) / 2);
  if (major.length > 1) {
    out.push(major[0] - (major[1] - major[0]) / 2);
    const m = major.length;
    out.push(major[m - 1] + (major[m - 1] - major[m - 2]) / 2);
  }
  return out.filter((v) => v >= lo && v <= hi);
}

function App() {
  const daysA = d3.range(rentalCount.length).map((k) => k * RECORD_STEP);
  const daysB = d3.range(rentalCountB.length).map((k) => k * RECORD_STEP + OFFSET_B);
  const lastDay = d3.timeDay.count(START, END);
  const cols = [
    [...daysA, ...daysB],
    [...rentalCount, ...rentalCountB],
    [...maxTemp, ...maxTempB],
    [...minTemp, ...minTempB],
    [...meanTemp, ...meanTempB],
    [...precipitation, ...precipitationB],
    [...snow, ...snowB],
    [...weekdayNum, ...weekdayNumB],
    [...isWeekday, ...isWeekdayB],
  ];
  const dens = [densDate, densRental, densMax, densMin, densMean, densPrecip, densSnow, densWeekday, densIsWeekday];

  const limits = cols.map((c, k) => {
    const [a, b] = k === 0 ? [0, lastDay] : (d3.extent(c) as [number, number]);
    const pad = (b - a) * 0.05;
    return [a - pad, b + pad];
  });

  const colX = (j: number) => LEFT + j * STEP_X;
  const rowY = (i: number) => TOP + i * STEP_Y;

  const xs = cols.map((_, j) =>
    d3.scaleLinear().domain(limits[j]).range([colX(j), colX(j) + PANEL_W])
  );
  const ys = cols.map((_, i) =>
    d3.scaleLinear().domain(limits[i]).range([rowY(i) + PANEL_H, rowY(i)])
  );
  const dys = dens.map((d, i) => {
    const m = d3.max(d, (p) => p[1]) ?? 1;
    return d3.scaleLinear().domain([-0.05 * m, 1.05 * m]).range([rowY(i) + PANEL_H, rowY(i)]);
  });

  // breaks
  const yearDays = YEAR_TICKS.map((yr) => d3.timeDay.count(START, new Date(yr, 0, 1)));
  const epochStart = Math.round(Date.UTC(2020, 0, 1) / 864e5);
  const dateNumDays = DATE_NUM_BREAKS.map((b) => b - epochStart);

  const inside = (v: number, dom: number[]) => v >= dom[0] && v <= dom[1];
  const xMajor = (j: number) =>
    (j === 0 ? yearDays : MAJOR_BREAKS[j]).filter((v) => inside(v, limits[j]));
  const yMajor = (i: number) =>
    (i === 0 ? dateNumDays : MAJOR_BREAKS[i]).filter((v) => inside(v, limits[i]));
  const diagMajor = (j: number) => {
    const dom = dys[j].domain();
    const step = DIAG_STEP[j];
    return d3.range(0, Math.floor(dom[1] / step + 1e-9) + 1).map((k) => k * step);
  };

  const fmt = (j: number, v: number) => {
    if (j === 0) return String(YEAR_TICKS[yearDays.indexOf(v)]);
    if (j === 8) return v.toFixed(2);
    return String(v);
  };

  const line = (j: number) =>
    d3
      .line<[number, number]>()
      .x((p) => xs[j](p[0]))
      .y((p) => dys[j](p[1]))
      .curve(d3.curveMonotoneX)(dens[j]) ?? "";

  const panels: any[] = [];
  for (let i = 0; i < 9; i++) {
    for (let j = 0; j < 9; j++) {
      const x0 = colX(j);
      const y0 = rowY(i);
      const xsc = xs[j];
      const ysc = i === j ? dys[j] : ys[i];
      const xMaj = xMajor(j);
      const xMin = minorBreaks(xMaj, limits[j][0], limits[j][1]);
      const yMaj = i === j ? diagMajor(j) : yMajor(i);
      const yDom = ysc.domain();
      const yMin = minorBreaks(yMaj, yDom[0], yDom[1]);

      const grid = (
        <g>
          {yMin.map((v, k) => (
            <line key={"ym" + k} x1={x0} x2={x0 + PANEL_W} y1={ysc(v)} y2={ysc(v)} stroke={GRID} strokeWidth={1.2} />
          ))}
          {xMin.map((v, k) => (
            <line key={"xm" + k} x1={xsc(v)} x2={xsc(v)} y1={y0} y2={y0 + PANEL_H} stroke={GRID} strokeWidth={1.2} />
          ))}
          {yMaj.map((v, k) => (
            <line key={"yM" + k} x1={x0} x2={x0 + PANEL_W} y1={ysc(v)} y2={ysc(v)} stroke={GRID} strokeWidth={2.3} />
          ))}
          {xMaj.map((v, k) => (
            <line key={"xM" + k} x1={xsc(v)} x2={xsc(v)} y1={y0} y2={y0 + PANEL_H} stroke={GRID} strokeWidth={2.3} />
          ))}
        </g>
      );

      let content: any = null;
      if (i === j) {
        content = <path d={line(j)} fill="none" stroke="#000" strokeWidth={2.8} />;
      } else if (j > i) {
        const cx = x0 + PANEL_W / 2;
        const cy = y0 + PANEL_H / 2;
        content = (
          <g fontFamily={FONT} fontSize={28.5} fill="#595959" textAnchor="middle">
            <text x={cx} y={cy - 20} dominantBaseline="central">Corr:</text>
            <text x={cx} y={cy + 23} dominantBaseline="central">{CORR_TEXT[i][j - i - 1]}</text>
          </g>
        );
      } else {
        content = (
          <g>
            {cols[j].map((v, k) => (
              <circle key={k} cx={xsc(v)} cy={ys[i](cols[i][k])} r={6.3} fill="#000" />
            ))}
          </g>
        );
      }
      panels.push(
        <g key={i + "-" + j}>
          {grid}
          {content}
        </g>
      );
    }
  }

  // axis labels
  const yLabels: any[] = [];
  for (let i = 0; i < 9; i++) {
    if (i === 0) {
      diagMajor(0).forEach((v, k) =>
        yLabels.push(
          <text key={"yl0-" + k} x={LEFT - 15} y={dys[0](v)} textAnchor="end" dominantBaseline="central">
            {v.toFixed(5)}
          </text>
        )
      );
    } else {
      yMajor(i).forEach((v, k) =>
        yLabels.push(
          <text key={"yl" + i + "-" + k} x={LEFT - 15} y={ys[i](v)} textAnchor="end" dominantBaseline="central">
            {fmt(i, v)}
          </text>
        )
      );
    }
  }
  const xLabels: any[] = [];
  const bottom = rowY(8) + PANEL_H;
  for (let j = 0; j < 9; j++) {
    xMajor(j).forEach((v, k) =>
      xLabels.push(
        <text key={"xl" + j + "-" + k} x={xs[j](v)} y={bottom + 23.5} textAnchor="middle" dominantBaseline="central">
          {fmt(j, v)}
        </text>
      )
    );
  }

  return (
    <svg width={2880} height={2880} style={{ position: "absolute", left: 0, top: 0, background: "#fff" }}>
      <rect x={0} y={0} width={2880} height={2880} fill="#fff" />
      <text x={112} y={34} fontFamily={FONT} fontSize={25} fill="#000">
        Figure 1
      </text>
      {panels}
      <g fontFamily={FONT} fontSize={23} fill="#1A1A1A">
        {VAR_NAMES.map((name, j) => (
          <text key={"top" + j} x={colX(j) + PANEL_W / 2} y={77} textAnchor="middle" dominantBaseline="central">
            {name}
          </text>
        ))}
        {VAR_NAMES.map((name, i) => {
          const cx = colX(8) + PANEL_W + 23.3;
          const cy = rowY(i) + PANEL_H / 2;
          return (
            <text
              key={"right" + i}
              x={cx}
              y={cy}
              textAnchor="middle"
              dominantBaseline="central"
              transform={`rotate(90, ${cx}, ${cy})`}
            >
              {name}
            </text>
          );
        })}
      </g>
      <g fontFamily={FONT} fontSize={23} fill="#4D4D4D">
        {yLabels}
        {xLabels}
      </g>
    </svg>
  );
}

export default App;
